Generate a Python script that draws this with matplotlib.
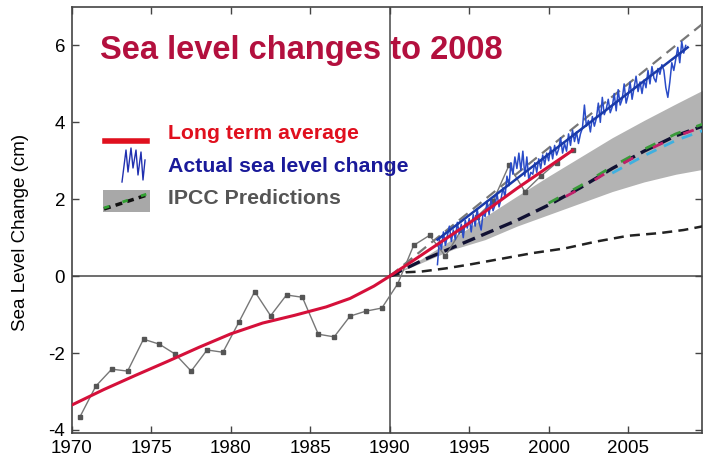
import numpy as np
import matplotlib
matplotlib.use("Agg")
import matplotlib.pyplot as plt
from matplotlib.lines import Line2D
from matplotlib.patches import Rectangle

plt.rcParams['font.family'] = ['Liberation Sans', 'DejaVu Sans']

# ---- data ----
# annual tide-gauge values (gray squares)
gauge_years = [1970.5, 1971.5, 1972.5, 1973.5, 1974.5, 1975.5, 1976.5, 1977.5, 1978.5, 1979.5,
               1980.5, 1981.5, 1982.5, 1983.5, 1984.5, 1985.5, 1986.5, 1987.5, 1988.5, 1989.5,
               1990.5, 1991.5, 1992.5, 1993.5, 1994.5, 1995.5, 1996.5, 1997.5, 1998.5, 1999.5,
               2000.5, 2001.5]
gauge_vals = [-3.66, -2.86, -2.42, -2.47, -1.64, -1.77, -2.03, -2.47, -1.92, -1.98,
              -1.20, -0.40, -1.03, -0.49, -0.55, -1.51, -1.58, -1.04, -0.91, -0.83,
              -0.20, 0.80, 1.06, 0.52, 1.20, 1.55, 1.95, 2.88, 2.20, 2.60,
              2.95, 3.27]

# long term average (red)
avg_years = [1970, 1972, 1974, 1976, 1978, 1980, 1982, 1984, 1986, 1987.5, 1989, 1990,
             1992, 1995, 1998, 2001.5]
avg_vals = [-3.35, -2.95, -2.58, -2.22, -1.85, -1.50, -1.22, -1.02, -0.80, -0.58, -0.26, 0.0,
            0.55, 1.38, 2.28, 3.27]

# satellite altimetry (blue), 8 samples per year from 1993.0
sat_vals = [0.30, 0.95, 0.70, 1.15, 0.80, 1.05, 1.30, 0.90,
            1.20, 0.95, 1.40, 1.10, 1.35, 1.00, 1.45, 1.25,
            1.50, 1.15, 1.60, 1.30, 1.75, 1.40, 1.20, 1.65,
            1.55, 1.95, 1.60, 2.00, 1.70, 1.85, 2.15, 1.80,
            2.00, 2.30, 2.05, 2.60, 2.35, 2.95, 2.65, 3.10,
            2.80, 3.20, 2.75, 3.25, 2.60, 3.10, 2.50, 2.70,
            2.65, 2.95, 2.70, 3.05, 2.80, 3.15, 2.90, 3.20,
            3.00, 3.35, 3.05, 3.40, 3.15, 3.30, 3.60, 3.20,
            3.45, 3.25, 3.70, 3.40, 3.80, 3.50, 3.75, 3.45,
            3.70, 3.85, 4.45, 3.90, 4.05, 3.75, 4.15, 3.90,
            4.10, 4.50, 4.00, 4.65, 4.20, 4.35, 4.60, 4.25,
            4.40, 4.75, 4.30, 4.85, 4.45, 4.60, 5.00, 4.50,
            4.70, 5.05, 4.60, 4.90, 5.20, 4.80, 5.05, 4.75,
            5.10, 4.90, 5.35, 5.00, 5.45, 5.15, 5.05, 5.40,
            5.25, 5.50, 5.35, 4.90, 4.65, 5.05, 5.55, 5.35,
            5.65, 5.95, 5.55, 6.10, 5.80, 6.00]
sat_start = 1993.0
sat_step = 0.125

# satellite trend (thick blue) and its extension (gray dashed)
trend_years = [1993.0, 2008.75]
trend_vals = [0.95, 5.95]
ext_years = [1990.0, 2009.65]
ext_vals = [0.0, 6.55]

# IPCC projections
ipcc_years = [1990, 1992, 1994, 1996, 1998, 2000, 2002, 2004, 2006, 2008, 2010]
ipcc_mid = [0.0, 0.40, 0.75, 1.10, 1.45, 1.85, 2.30, 2.80, 3.25, 3.65, 3.95]
ipcc_hi = [0.0, 0.45, 0.98, 1.55, 2.08, 2.60, 3.10, 3.60, 4.05, 4.48, 4.90]
ipcc_lo = [0.0, 0.35, 0.70, 0.95, 1.30, 1.60, 1.90, 2.20, 2.45, 2.65, 2.80]
low_years = [1990, 1991, 1992, 1993.5, 1995, 1997, 1999, 2001, 2003, 2005, 2007, 2008.5, 2010]
low_vals = [0.0, 0.10, 0.12, 0.20, 0.30, 0.45, 0.60, 0.72, 0.90, 1.05, 1.12, 1.20, 1.32]

xticks = [1970, 1975, 1980, 1985, 1990, 1995, 2000, 2005]
yticks = [-4, -2, 0, 2, 4, 6]

# ---- figure ----
W, H = 712, 463
fig = plt.figure(figsize=(W / 100, H / 100), dpi=100)
ax = fig.add_axes([72 / W, 1 - 433 / H, (702 - 72) / W, (433 - 7) / H])
ax.set_xlim(1970, 2009.65)
ax.set_ylim(-4.08, 7.0)

def px(x, y):
    return (x / W, 1 - y / H)

# reference lines
ax.axhline(0, color='#555555', lw=1.2, zorder=1)
ax.axvline(1990, color='#555555', lw=1.2, zorder=1)

# IPCC band + lines
ax.fill_between(ipcc_years, ipcc_lo, ipcc_hi, color='#b3b3b3', lw=0, zorder=2)
ax.plot(low_years, low_vals, color='#222222', lw=1.8, dashes=(4, 2.5), zorder=3)
ax.plot(ipcc_years, ipcc_mid, color='#111133', lw=2.4, dashes=(4, 2), zorder=4)
# coloured model runs near the end
yrs = np.array(ipcc_years, dtype=float)
mid = np.array(ipcc_mid)
sel = yrs >= 2000
ax.plot(yrs[sel], mid[sel] + 0.05, color='#3a9a3a', lw=2.0, dashes=(4, 6), zorder=4)
ax.plot(yrs[sel], mid[sel] - 0.02, color='#c0206a', lw=2.0, linestyle=(5, (4, 8)), zorder=4)
sel2 = yrs >= 2004
ax.plot(yrs[sel2], mid[sel2] - 0.12, color='#40b0e0', lw=2.0, dashes=(4, 3), zorder=4)

# extension dashed gray
ax.plot(ext_years, ext_vals, color='#777777', lw=1.6, dashes=(5, 3), zorder=5)

# tide gauge data
ax.plot(gauge_years, gauge_vals, color='#777777', lw=1.0, marker='s', ms=3.5,
        mfc='#555555', mec='#555555', zorder=6)

# satellite data
sat_years = sat_start + sat_step * np.arange(len(sat_vals))
ax.plot(sat_years, sat_vals, color='#2a4cc8', lw=1.1, zorder=7)
ax.plot(trend_years, trend_vals, color='#1a3aa8', lw=1.8, zorder=8)

# long term average
ax.plot(avg_years, avg_vals, color='#d5103a', lw=2.2, zorder=9)

# axes style
for s in ax.spines.values():
    s.set_color('#444444')
    s.set_linewidth(1.2)
ax.set_xticks(xticks)
ax.set_yticks(yticks)
ax.set_xticklabels([str(v) for v in xticks])
ax.set_yticklabels([str(v) for v in yticks])
ax.tick_params(direction='in', length=5, width=1, color='#444444', labelsize=13.5,
               top=True, right=True, pad=5)
ax.set_ylabel('Sea Level Change (cm)', fontsize=13.5)
ax.yaxis.set_label_coords(-0.068, (433 - 232) / (433 - 7))

# title
fig.text(*px(100, 50), 'Sea level changes to 2008', fontsize=23.5, fontweight='bold',
         color='#b3103e', va='center', ha='left')

# legend
fig.add_artist(Line2D([105 / W, 147 / W], [1 - 141 / H, 1 - 141 / H], color='#e0101e', lw=4))
zig_x = [122, 126, 128, 131, 133, 136, 138, 141, 143, 145]
zig_y = [182, 150, 172, 148, 168, 150, 175, 152, 180, 160]
fig.add_artist(Line2D([x / W for x in zig_x], [1 - y / H for y in zig_y], color='#2030b0', lw=1.0))
fig.add_artist(Rectangle(px(103, 212), 47 / W, 22 / H, facecolor='#a8a8a8', edgecolor='none'))
fig.add_artist(Line2D([104 / W, 150 / W], [1 - 209 / H, 1 - 194 / H], color='#111111', lw=2.5,
                      dashes=(2, 1.5)))
fig.add_artist(Line2D([104 / W, 150 / W], [1 - 208 / H, 1 - 193 / H], color='#30a030', lw=2.0,
                      dashes=(2, 5)))
fig.text(*px(168, 134), 'Long term average', fontsize=15.3, fontweight='bold', color='#e0101e',
         va='center')
fig.text(*px(168, 166), 'Actual sea level change', fontsize=15.3, fontweight='bold', color='#1a1a9a',
         va='center')
fig.text(*px(168, 199), 'IPCC Predictions', fontsize=15.3, fontweight='bold', color='#555555',
         va='center')

fig.savefig('out.png', dpi=100)
